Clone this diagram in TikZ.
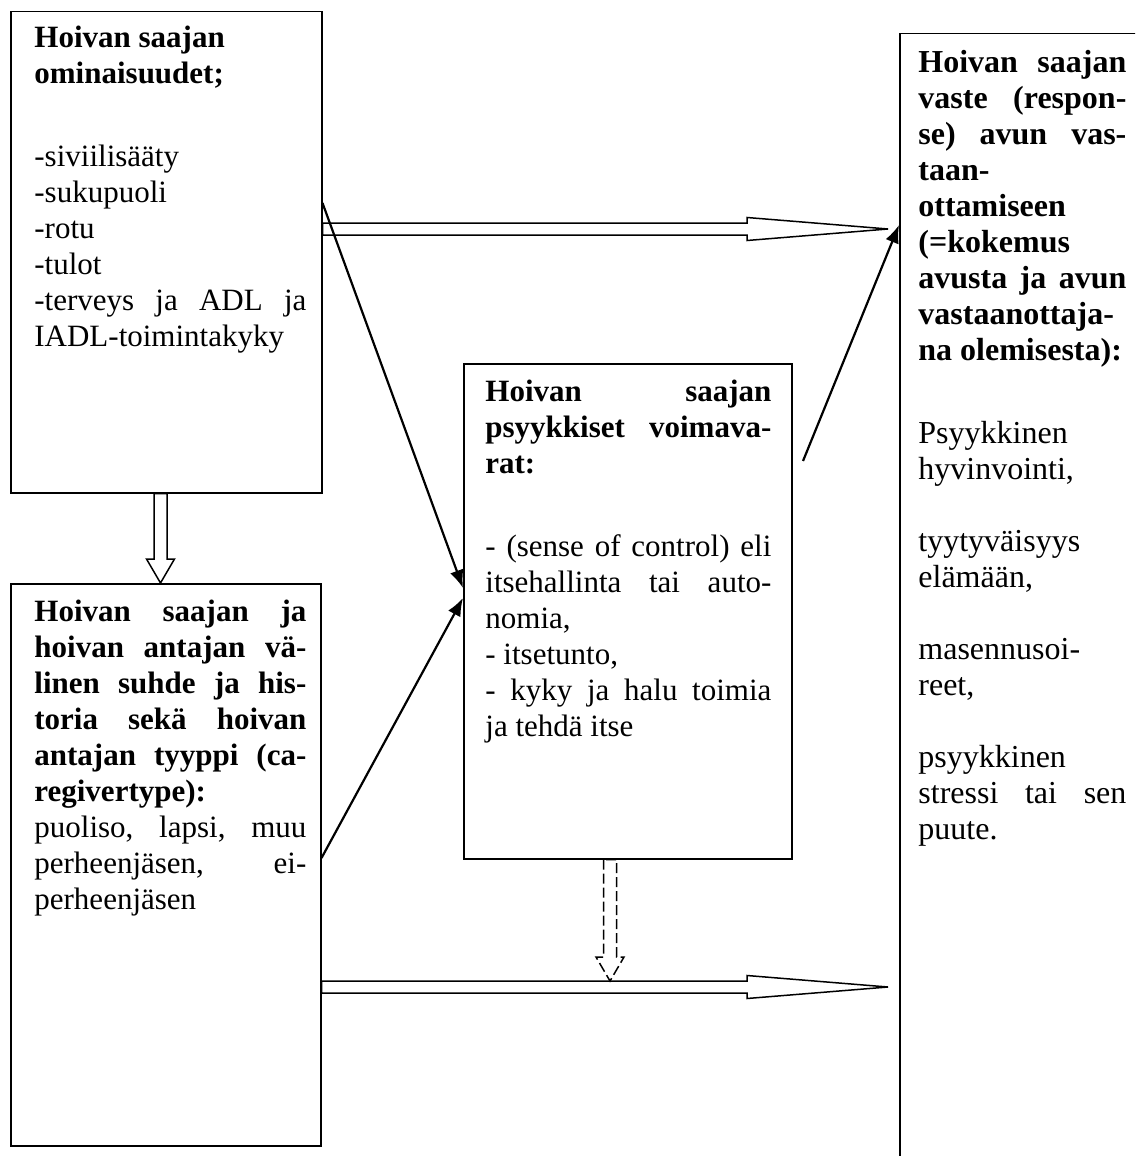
\documentclass[tikz,border=0pt]{standalone}
\usepackage{fontspec}
\setmainfont{Liberation Serif}
\usetikzlibrary{calc,positioning,arrows.meta}

\newcommand\boxfont{\fontsize{15.5pt}{18pt}\selectfont}
\newcommand\respfont{\fontsize{16pt}{18pt}\selectfont}
\newcommand\gapline{\par\mbox{}\par\vspace{5.5pt}}

\tikzset{
  box/.style={draw, line width=0.75pt, inner sep=0pt, anchor=north west},
  txt/.style={inner sep=0pt, anchor=north west, align=justify, font=\boxfont,
    execute at begin node={\setlength\parindent{0pt}\tolerance=10000\hyphenpenalty=10000\exhyphenpenalty=10000\strut}},
  hollow/.style={draw, line width=0.75pt, line join=miter},
  link/.style={-{Latex[length=9pt,width=7pt]}, line width=1.1pt},
  rblock/.style={to path={let \p1=(\tikztostart), \p2=(\tikztotarget) in
    (\x1,\y1+3pt) -- (\x2-70.5pt,\y1+3pt) -- (\x2-70.5pt,\y1+5.75pt) -- (\x2,\y2)
    -- (\x2-70.5pt,\y1-5.75pt) -- (\x2-70.5pt,\y1-3pt) -- (\x1,\y1-3pt) -- cycle}},
  dblock/.style={to path={let \p1=(\tikztostart), \p2=(\tikztotarget) in
    (\x1-3.25pt,\y1) -- (\x1-3.25pt,\y2+12pt) -- (\x1-7pt,\y2+12pt) -- (\x2,\y2)
    -- (\x1+7pt,\y2+12pt) -- (\x1+3.25pt,\y2+12pt) -- (\x1+3.25pt,\y1) -- cycle}}
}

\begin{document}
\begin{tikzpicture}[x=0.5pt, y=-0.5pt]
  % Page frame
  \path[use as bounding box] (0,0) rectangle (1135,1156);
  \clip (0,0) rectangle (1135,1156);

  % Boxes
  \node[box, minimum width=155.5pt, minimum height=240.5pt] (care) at (10,11) {};
  \node[box, minimum width=155pt, minimum height=281pt] (rel) at (10,583) {};
  \node[box, minimum width=164pt, minimum height=247.5pt] (res) at (463,363) {};
  \node[box, minimum width=160pt, minimum height=600pt] (resp) at (899,33) {};

  % Texts
  \node[txt, text width=136pt] (caretxt) at ([xshift=12pt, yshift=-5.4pt]care.north west) {%
    \textbf{Hoivan saajan}\par
    \textbf{ominaisuudet;}\gapline
    -siviilisääty\par
    -sukupuoli\par
    -rotu\par
    -tulot\par
    -terveys ja ADL ja\linebreak IADL-toimintakyky};

  \node[txt, text width=136pt] (reltxt) at ([xshift=12pt, yshift=-6.4pt]rel.north west) {%
    \textbf{Hoivan saajan ja\linebreak hoivan antajan vä-\linebreak linen suhde ja his-\linebreak
    toria sekä hoivan\linebreak antajan tyyppi (ca-\linebreak regivertype):}\par
    puoliso, lapsi, muu\linebreak perheenjäsen, ei-\linebreak perheenjäsen};

  \node[txt, text width=143pt] (restxt) at ([xshift=11pt, yshift=-6.4pt]res.north west) {%
    \textbf{Hoivan saajan\linebreak psyykkiset voimava-\linebreak rat:}\gapline
    - (sense of control) eli\linebreak itsehallinta tai auto-\linebreak nomia,\par
    - itsetunto,\par
    - kyky ja halu toimia\linebreak ja tehdä itse};

  \node[txt, text width=104pt, font=\respfont] (resptxt) at ([xshift=9.5pt, yshift=-6.9pt]resp.north west) {%
    \textbf{Hoivan saajan\linebreak vaste (respon-\linebreak se) avun vas-\linebreak taan-\linebreak
    ottamiseen\linebreak (=kokemus\linebreak avusta ja avun\linebreak vastaanottaja-\linebreak na olemisesta):}\gapline
    Psyykkinen\linebreak hyvinvointi,\par
    \mbox{}\par
    tyytyväisyys\linebreak elämään,\par
    \mbox{}\par
    masennusoi-\linebreak reet,\par
    \mbox{}\par
    psyykkinen\linebreak stressi tai sen\linebreak puute.};

  % Block arrows
  \coordinate (t1) at (888,229);
  \coordinate (t2) at (888,987);
  \coordinate (d1) at (160.5,0);
  \coordinate (d2) at (610,0);
  \draw[hollow] (care.east |- t1) to[rblock] (t1);
  \draw[hollow] (rel.east |- t2) to[rblock] (t2);
  \draw[hollow] (care.south -| d1) to[dblock] (rel.north -| d1);
  \draw[hollow, dash pattern=on 5pt off 2pt] (res.south -| d2) to[dblock] ($(t2 -| d2)+(0,-6)$);

  % Influence arrows
  \coordinate (up) at (803,461);
  \draw[link] (care.east |- 0,203) -- (res.west |- 0,588);
  \draw[link] (rel.east |- 0,858) -- (res.west |- 0,598);
  \draw[link] (up) -- (resp.west |- 0,225);
\end{tikzpicture}
\end{document}
